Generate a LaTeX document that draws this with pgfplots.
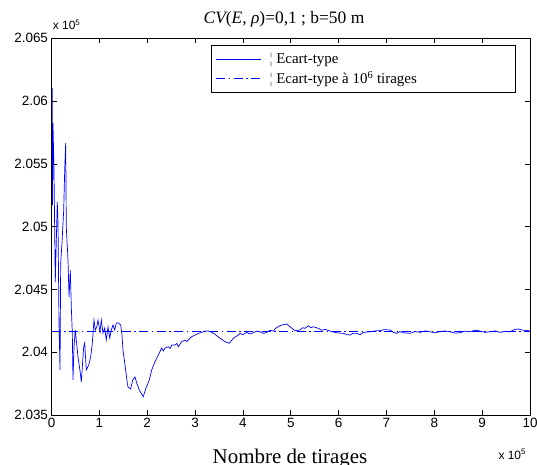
\documentclass[border=0pt]{standalone}
\usepackage{fontspec}
\setmainfont{Liberation Serif}
\newfontfamily\arialfont{Liberation Sans}
\usepackage{pgfplots}
\pgfplotsset{compat=1.18}
\definecolor{mblue}{rgb}{0,0,1}
\pgfplotstableread{
x y
0.017 2.06104
0.021 2.05172
0.031 2.05825
0.052 2.05451
0.079 2.04559
0.121 2.05196
0.136 2.05029
0.157 2.04233
0.178 2.03858
0.192 2.04710
0.219 2.04869
0.255 2.05132
0.276 2.05451
0.297 2.05666
0.309 2.04997
0.345 2.04734
0.366 2.04440
0.393 2.04654
0.414 2.04360
0.435 2.04153
0.449 2.03779
0.470 2.04041
0.497 2.04177
0.518 2.04097
0.554 2.03962
0.602 2.03834
0.623 2.03763
0.644 2.03882
0.673 2.04041
0.694 2.04073
0.727 2.03858
0.777 2.03898
0.819 2.03962
0.853 2.04073
0.888 2.04256
0.915 2.04177
0.945 2.04201
0.972 2.04256
1.013 2.04161
1.041 2.04256
1.076 2.04153
1.112 2.04193
1.145 2.04097
1.181 2.04201
1.216 2.04113
1.250 2.04177
1.285 2.04217
1.321 2.04177
1.354 2.04233
1.404 2.04233
1.446 2.04217
1.473 2.04137
1.494 2.04018
1.542 2.03882
1.584 2.03755
1.599 2.03723
1.655 2.03707
1.697 2.03779
1.745 2.03803
1.781 2.03755
1.835 2.03699
1.885 2.03667
1.918 2.03646
1.975 2.03715
2.044 2.03779
2.094 2.03858
2.163 2.03924
2.232 2.03978
2.303 2.04033
2.340 2.04010
2.372 2.04033
2.441 2.04044
2.480 2.04030
2.512 2.04057
2.581 2.04057
2.620 2.04070
2.650 2.04044
2.721 2.04084
2.790 2.04097
2.830 2.04085
2.859 2.04097
2.930 2.04123
2.999 2.04137
3.068 2.04150
3.139 2.04158
3.208 2.04169
3.277 2.04169
3.347 2.04158
3.417 2.04143
3.521 2.04111
3.626 2.04084
3.716 2.04071
3.799 2.04111
3.904 2.04137
3.939 2.04150
4.000 2.04140
4.079 2.04158
4.150 2.04145
4.217 2.04155
4.290 2.04168
4.357 2.04163
4.430 2.04150
4.497 2.04158
4.570 2.04175
4.635 2.04169
4.700 2.04195
4.775 2.04211
4.850 2.04220
4.915 2.04225
4.984 2.04203
5.089 2.04171
5.193 2.04177
5.250 2.04195
5.298 2.04190
5.367 2.04211
5.420 2.04195
5.471 2.04203
5.576 2.04190
5.650 2.04175
5.716 2.04182
5.820 2.04169
5.900 2.04160
5.960 2.04155
6.098 2.04150
6.180 2.04140
6.238 2.04137
6.300 2.04150
6.378 2.04150
6.450 2.04140
6.516 2.04158
6.656 2.04163
6.796 2.04171
6.865 2.04171
6.950 2.04180
7.074 2.04177
7.140 2.04160
7.214 2.04150
7.280 2.04165
7.352 2.04155
7.492 2.04150
7.600 2.04165
7.701 2.04158
7.810 2.04170
7.910 2.04163
8.000 2.04155
8.119 2.04163
8.220 2.04170
8.328 2.04163
8.430 2.04152
8.537 2.04155
8.640 2.04168
8.746 2.04163
8.850 2.04175
8.955 2.04169
9.060 2.04158
9.164 2.04163
9.270 2.04170
9.373 2.04158
9.480 2.04165
9.582 2.04163
9.687 2.04182
9.760 2.04185
9.826 2.04177
10.000 2.04170
}\curvedata
\begin{document}
\begin{tikzpicture}
\useasboundingbox (0bp,0bp) rectangle (537bp,465bp);
\begin{axis}[
  at={(51.5bp,50bp)}, anchor=south west,
  scale only axis, width=478.5bp, height=376.7bp,
  xmin=0, xmax=10, ymin=2.035, ymax=2.065,
  xtick={0,1,2,3,4,5,6,7,8,9,10},
  xticklabels={0,1,2,3,4,5,6,7,8,9,10},
  ytick={2.035,2.04,2.045,2.05,2.055,2.06,2.065},
  yticklabels={2.035,2.04,2.045,2.05,2.055,2.06,2.065},
  tick align=inside, major tick length=5bp,
  tick label style={font=\arialfont\fontsize{13.5}{16}\selectfont, text=black},
  axis line style={black, line width=0.7bp},
  every tick/.style={black, line width=0.7bp},
  /pgf/number format/assume math mode=true,
  legend style={at={(rel axis cs:0.3327,0.9822)}, anchor=north west,
    draw, line width=0.7bp, font=\fontsize{15}{18}\selectfont,
    cells={anchor=west}, inner xsep=4.5bp, inner ysep=6bp, row sep=2bp,
    /tikz/every odd column/.append style={column sep=6bp}},
]
\addplot[color=mblue, line width=0.7bp,
  legend image code/.code={\draw[color=mblue, line width=1bp] (0bp,0bp) -- (45bp,0bp);}]
  table[x=x, y=y] {\curvedata};
\addlegendentry{\makebox[239bp][l]{{\color{black!60}¦} Ecart-type}}
\addplot[color=mblue, line width=0.9bp, dash pattern=on 9bp off 3.5bp on 1.5bp off 3.5bp,
  legend image code/.code={\draw[color=mblue, line width=1bp, dash pattern=on 9bp off 3.5bp on 1.5bp off 3.5bp] (0bp,0bp) -- (45bp,0bp);}]
  coordinates {(0,2.04163) (10,2.04163)};
\addlegendentry{\makebox[239bp][l]{{\color{black!60}¦} Ecart-type à 10\textsuperscript{6} tirages}}
\end{axis}
\node[anchor=base, font=\fontsize{17.5}{20}\selectfont] at (284bp,441bp) {{\itshape CV}({\itshape E}, {\itshape ρ})=0,1 ; b=50 m};
\node[anchor=base, font=\fontsize{21}{24}\selectfont] at (290bp,2bp) {Nombre de tirages};
\node[anchor=base west, inner sep=0pt, font=\arialfont\fontsize{12}{14}\selectfont] at (52.7bp,435bp) {x 10\textsuperscript{5}};
\node[anchor=base west, inner sep=0pt, font=\arialfont\fontsize{12}{14}\selectfont] at (498.3bp,5.7bp) {x 10\textsuperscript{5}};
\end{tikzpicture}
\end{document}
